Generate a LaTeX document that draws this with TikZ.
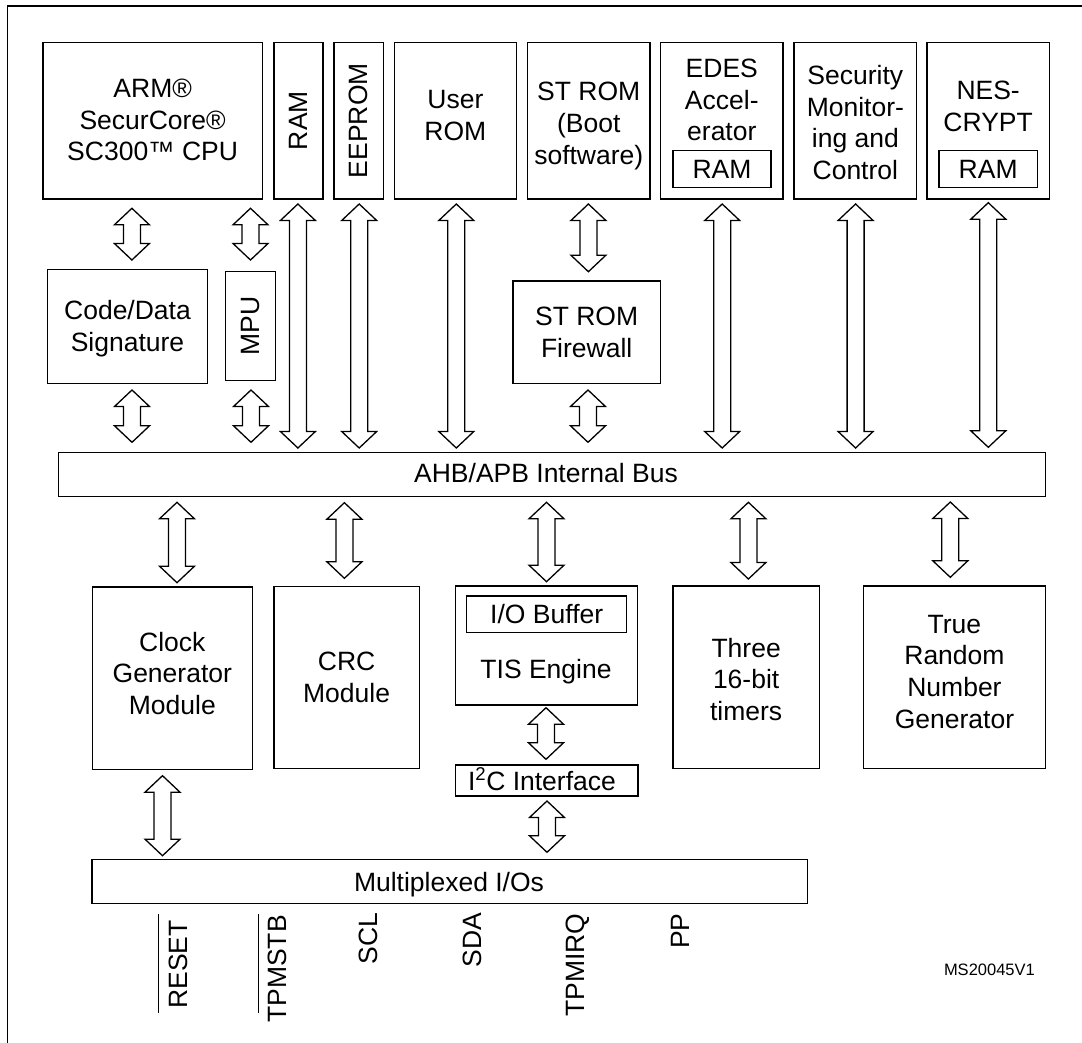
\documentclass[tikz,border=0pt]{standalone}
\usepackage{fontspec}
\setmainfont{Liberation Sans}
\usetikzlibrary{calc}
\newcommand\mainsize{\fontsize{26.5}{31.7}\selectfont}
\newcommand\smallsize{\fontsize{16.5}{20}\selectfont}
\tikzset{
  blk/.style={draw, line width=1.4pt, inner sep=0pt, outer sep=0pt},
  txt/.style={inner sep=0pt, align=center, font=\mainsize},
  barr/.style={draw, line width=1.3pt, line join=miter, fill=white},
  sig/.style={inner sep=0pt, font=\mainsize, rotate=90, anchor=base east},
  frameline/.style={line width=1.2pt},
}
% \bx{name}{cx}{cy}{w}{h}{text dy}{text}
\newcommand\bx[7]{%
  \node[blk, minimum width=#4pt, minimum height=#5pt] (#1) at (#2,#3) {};
  \node[txt] (#1-t) at (#2,#3+#6) {#7};}
% \dba{x}{top anchor}{top gap}{bottom anchor}{bottom gap}
\newcommand\dba[5]{%
  \draw[barr] let \p1=(#1,0 |- #2), \p2=(#1,0 |- #4) in
    (\x1,\y1-#3pt) -- (\x1+17.5pt,\y1-#3pt-16.5pt) -- (\x1+8.5pt,\y1-#3pt-16.5pt)
    -- (\x1+8.5pt,\y2+#5pt+16.5pt) -- (\x1+17.5pt,\y2+#5pt+16.5pt) -- (\x1,\y2+#5pt)
    -- (\x1-17.5pt,\y2+#5pt+16.5pt) -- (\x1-8.5pt,\y2+#5pt+16.5pt)
    -- (\x1-8.5pt,\y1-#3pt-16.5pt) -- (\x1-17.5pt,\y1-#3pt-16.5pt) -- cycle;}
\begin{document}
\begin{tikzpicture}[x=1pt,y=-1pt]
\useasboundingbox (0,0) rectangle (1082,1043);
\draw[frameline] (7.3,1043) -- (7.3,6) -- (1082,6);

% top row
\bx{cpu}{152.65}{120.65}{219.3}{156.7}{-0.5}{ARM®\\SecurCore®\\SC300™ CPU}
\bx{ram}{298.5}{120.65}{49}{156.7}{0}{\rotatebox{90}{RAM}}
\bx{eeprom}{358.65}{120.65}{49.3}{156.7}{0}{\rotatebox{90}{EEPROM}}
\bx{urom}{455.4}{120.65}{122.2}{156.7}{-5}{User\\ROM}
\bx{strom}{588.75}{120.65}{122.5}{156.7}{5.5}{ST ROM\\(Boot\\software)}
\bx{edes}{721.8}{120.65}{122.4}{156.7}{-20.65}{EDES\\Accel-\\erator}
\bx{edesram}{722}{169}{98}{36.6}{0}{RAM}
\bx{secmon}{855.35}{120.65}{122.7}{156.7}{2}{Security\\Monitor-\\ing and\\Control}
\bx{nes}{988.15}{120.65}{122.3}{156.7}{-14.3}{NES-\\CRYPT}
\bx{nesram}{988.15}{169}{98.3}{36.6}{0}{RAM}

% middle row
\bx{code}{127.5}{326.3}{159.6}{114}{2}{Code/Data\\Signature}
\bx{mpu}{250.5}{326.2}{49.6}{109}{0}{\rotatebox{90}{MPU}}
\bx{fw}{586.65}{332.15}{147.3}{102.3}{0}{ST ROM\\Firewall}

% bus
\node[blk, minimum width=987.2pt, minimum height=44pt] (bus) at (552.1,474.3) {};
\node[txt, anchor=base] (bus-t) at (546,482.7) {AHB/APB Internal Bus};

% lower row
\bx{clock}{172.3}{678.15}{160.2}{182.3}{-4.8}{Clock\\Generator\\Module}
\bx{crc}{346.6}{677.7}{145.6}{182}{0}{CRC\\Module}
\node[blk, minimum width=182pt, minimum height=119pt] (tis) at (546.3,645.5) {};
\node[txt, anchor=base] (tis-t) at (546,678.3) {TIS Engine};
\bx{iobuf}{546.7}{614.35}{160}{36.7}{0}{I/O Buffer}
\node[blk, minimum width=182.7pt, minimum height=31pt] (i2c) at (546.65,780.5) {};
\node[txt, anchor=base] (i2c-t) at (542,790) {I\textsuperscript{2}C Interface};
\bx{timers}{746.15}{677.35}{146.3}{182.7}{2}{Three\\16-bit\\timers}
\bx{trng}{954.45}{677.35}{182.5}{182.7}{-5.7}{True\\Random\\Number\\Generator}

% multiplexed I/Os
\node[blk, minimum width=715.2pt, minimum height=44pt] (mux) at (449.6,881.3) {};
\node[txt, anchor=base] (mux-t) at (449,891.7) {Multiplexed I/Os};

% arrows, upper part
\dba{131.9}{cpu.south}{9.3}{code.north}{9.3}
\dba{250.5}{cpu.south}{9.3}{mpu.north}{11.7}
\dba{297.9}{ram.south}{5}{bus.north}{4.3}
\dba{359.2}{eeprom.south}{5}{bus.north}{4.3}
\dba{456.3}{urom.south}{5}{bus.north}{4.3}
\dba{588.4}{strom.south}{5}{fw.north}{9.3}
\dba{722.2}{edes.south}{5}{bus.north}{4.3}
\dba{855.6}{secmon.south}{5}{bus.north}{4.3}
\dba{988.3}{nes.south}{3.7}{bus.north}{5}
\dba{132}{code.south}{6.7}{bus.north}{10}
\dba{251}{mpu.south}{9.3}{bus.north}{10}
\dba{588}{fw.south}{6.7}{bus.north}{10}
% arrows, lower part
\dba{177}{bus.south}{6}{clock.north}{4.3}
\dba{344.4}{bus.south}{6.4}{crc.north}{8.4}
\dba{546.5}{bus.south}{6}{tis.north}{4.3}
\dba{748.4}{bus.south}{6}{timers.north}{7}
\dba{950.3}{bus.south}{5.7}{trng.north}{8.7}
\dba{546}{tis.south}{2.7}{i2c.north}{5.7}
\dba{162.5}{clock.south}{6.4}{mux.north}{3.6}
\dba{547}{i2c.south}{5}{mux.north}{7}

% signal names
\node[sig] (rst) at (187.7,920) {RESET};
\node[sig] (tpmstb) at (286.5,915) {TPMSTB};
\node[sig] (scl) at (377.7,912.7) {SCL};
\node[sig] (sda) at (481.4,912.7) {SDA};
\node[sig] (tpmirq) at (584.5,913.3) {TPMIRQ};
\node[sig] (pp) at (689.3,913.3) {PP};
\draw[frameline] (158.4,914) -- (158.4,1013.3);
\draw[frameline] (258.3,914) -- (258.3,1013.3);

\node[inner sep=0pt, font=\smallsize, anchor=base] (ref) at (989.4,975) {MS20045V1};
\end{tikzpicture}
\end{document}
